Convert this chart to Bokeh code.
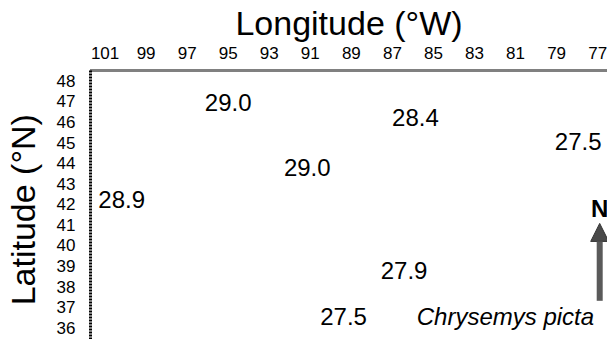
from bokeh.plotting import figure
from bokeh.models import ColumnDataSource, Range1d, FixedTicker, Arrow, NormalHead, Label
from bokeh.core.properties import value
from bokeh.embed import file_html
from bokeh.resources import INLINE

# Data: site temperatures (labels) at longitude (°W) / latitude (°N)
lon = [95.0, 85.88, 77.95, 91.15, 100.19, 86.43, 89.38]
lat = [46.95, 46.2, 45.05, 43.8, 42.25, 38.76, 36.55]
temp = ["29.0", "28.4", "27.5", "29.0", "28.9", "27.9", "27.5"]

lon_ticks = [101, 99, 97, 95, 93, 91, 89, 87, 85, 83, 81, 79, 77]
lat_ticks = [36, 37, 38, 39, 40, 41, 42, 43, 44, 45, 46, 47, 48]

species = "Chrysemys  picta"
species_pos = (81.33, 36.55)
arrow_x = 76.9
arrow_lat = (37.31, 41.07)
north_lat = 41.81

FONT = "Liberation Sans"

p = figure(width=607, height=339, output_backend="svg", toolbar_location=None,
           x_axis_location="above", y_axis_location="left",
           x_range=Range1d(101.71, 76.52), y_range=Range1d(35.43, 48.5),
           min_border_left=79, min_border_top=64, min_border_right=0, min_border_bottom=0)
p.outline_line_color = None
p.xgrid.visible = False
p.ygrid.visible = False
p.background_fill_color = "white"
p.border_fill_color = "white"

for ax in (p.xaxis[0], p.yaxis[0]):
    ax.major_tick_line_color = None
    ax.minor_tick_line_color = None
    ax.major_label_text_font = FONT
    ax.major_label_text_color = "black"
    ax.major_label_text_font_size = "17px"
    ax.axis_label_text_font = FONT
    ax.axis_label_text_font_style = "normal"
    ax.axis_label_text_color = "black"
    ax.axis_line_color = "black"
    ax.axis_line_width = 3

p.xaxis.ticker = FixedTicker(ticks=lon_ticks)
p.xaxis.axis_label = "Longitude (°W)"
p.xaxis.axis_label_text_font_size = "34px"
p.xaxis.axis_line_dash = "1 1"
p.xaxis.major_label_standoff = 6
p.xaxis.axis_label_standoff = 2

p.yaxis.ticker = FixedTicker(ticks=lat_ticks)
p.yaxis.axis_label = "Latitude  (°N)"
p.yaxis.axis_label_text_font_size = "34px"
p.yaxis.axis_line_dash = "2 1"
p.yaxis.major_label_standoff = 9
p.yaxis.axis_label_standoff = 12

src = ColumnDataSource(dict(lon=lon, lat=lat, temp=temp))
p.text(x="lon", y="lat", text="temp", source=src, text_align="center",
       text_baseline="middle", text_font=value(FONT), text_font_size="24px",
       text_color="black")

p.add_layout(Label(x=species_pos[0], y=species_pos[1], text=species,
                   text_align="center", text_baseline="middle", text_font=FONT,
                   text_font_style="italic", text_font_size="24px", text_color="black"))

p.add_layout(Arrow(x_start=arrow_x, y_start=arrow_lat[0], x_end=arrow_x, y_end=arrow_lat[1],
                   line_color="#5a5a5a", line_width=6,
                   end=NormalHead(size=18, fill_color="#4a4a4a", line_color="#333333")))
p.add_layout(Label(x=arrow_x, y=north_lat, text="N", text_align="center",
                   text_baseline="middle", text_font=FONT, text_font_style="bold",
                   text_font_size="24px", text_color="black"))

open("out.html", "w").write(file_html(p, INLINE))
